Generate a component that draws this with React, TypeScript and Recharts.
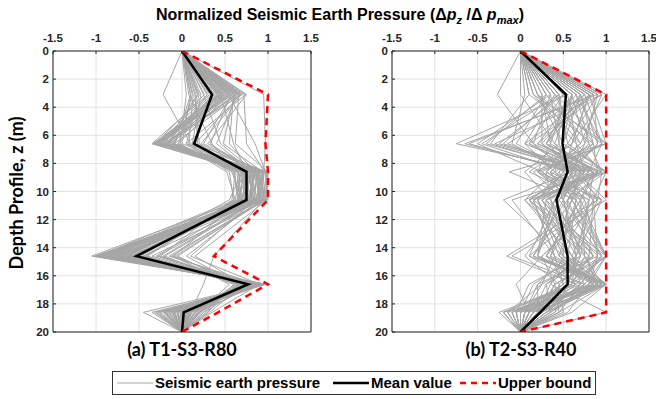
import React from 'react';
import { LineChart, Line, XAxis, YAxis, CartesianGrid } from 'recharts';

// depth stations (m) where the pressure profiles were sampled
const DEPTHS = [0, 3.1, 6.6, 8.6, 10.6, 14.6, 16.6, 18.6, 20];
const X_TICKS = [-1.5, -1, -0.5, 0, 0.5, 1, 1.5];
const Z_TICKS = [0, 2, 4, 6, 8, 10, 12, 14, 16, 18, 20];

// every record is zero at the surface and at the base
const SURFACE = 0;
const BASE = 0;

// T1-S3-R80 records, values at depths 3.1 .. 18.6
const T1_RECORDS = [
  [0.45, -0.30, 0.80, 0.85, -0.90, 0.85, -0.10],
  [0.55, -0.28, 0.90, 0.95, -0.85, 0.90, 0.05],
  [0.60, -0.33, 0.85, 0.80, -1.00, 0.95, -0.20],
  [0.40, -0.25, 0.70, 0.75, -0.70, 0.80, 0.10],
  [0.65, -0.20, 0.95, 0.90, -0.95, 0.88, -0.05],
  [0.30, -0.35, 0.75, 0.70, -1.05, 0.92, -0.30],
  [0.50, -0.15, 0.65, 0.85, -0.60, 0.75, 0.15],
  [0.70, -0.22, 1.00, 0.98, -0.80, 0.97, 0.00],
  [0.35, -0.10, 0.60, 0.65, -0.50, 0.70, 0.20],
  [0.20, 0.05, 0.55, 0.60, -0.40, 0.65, 0.25],
  [0.75, 0.30, 0.90, 0.80, -0.30, 0.85, -0.15],
  [0.25, 0.45, 0.85, 0.90, -0.20, 0.60, 0.30],
  [0.15, 0.20, 0.70, 0.55, -0.65, 0.80, 0.05],
  [-0.22, 0.10, 0.80, 0.75, -0.45, 0.78, -0.05],
  [0.95, 0.97, 0.95, 0.85, 0.10, 0.90, 0.35],
  [0.60, 0.55, 0.85, 0.95, 0.37, 0.25, 0.10],
  [0.45, 0.60, 0.75, 0.70, -0.10, 0.55, 0.20],
  [0.55, -0.05, 0.65, 0.75, -0.55, 0.70, 0.00],
  [0.10, 0.00, 0.90, 0.88, -0.75, 0.95, -0.25],
  [0.50, -0.30, 0.80, 0.72, -0.88, 0.82, -0.10],
  [0.62, -0.18, 0.88, 0.92, -0.78, 0.86, 0.08],
  [0.38, -0.27, 0.72, 0.66, -0.92, 0.90, -0.18],
  [0.68, 0.15, 0.98, 1.00, -0.35, 0.75, 0.12],
  [0.08, 0.35, 0.62, 0.58, -0.25, 0.68, 0.22],
  [0.52, -0.12, 0.78, 0.82, -0.68, 0.80, -0.08],
  [0.58, 0.25, 0.92, 0.96, -0.15, 0.88, 0.18],
  [0.18, -0.20, 0.68, 0.62, -0.98, 0.93, -0.45],
  [0.72, 0.75, 0.96, 0.90, 0.05, 0.66, 0.28],
  [0.44, -0.32, 0.84, 0.78, -0.82, 0.84, -0.12],
  [0.13, 0.08, 0.58, 0.70, -0.58, 0.72, 0.06],
  [0.48, -0.24, 0.94, 0.86, -0.72, 0.98, -0.22],
  [0.64, 0.40, 0.82, 0.94, -0.05, 0.62, 0.15],
  [0.10, -0.08, 0.66, 0.68, -0.62, 0.76, 0.02],
  [0.56, -0.26, 0.76, 0.84, -0.94, 0.91, -0.28],
  [0.16, 0.18, 0.74, 0.64, -0.48, 0.74, 0.10],
  [0.66, 0.62, 1.00, 0.96, -0.12, 0.80, 0.25],
  [0.42, -0.16, 0.86, 0.76, -0.76, 0.87, -0.02],
  [0.05, -0.02, 0.52, 0.62, -0.42, 0.64, 0.16],
  [0.54, 0.85, 0.97, 0.99, 0.15, 0.72, 0.32],
  [0.46, -0.34, 0.88, 0.90, -1.02, 0.96, -0.35],
  [0.32, -0.29, 0.82, 0.80, -0.86, 0.83, -0.06],
  [0.58, -0.21, 0.91, 0.88, -0.96, 0.94, -0.14],
  [0.26, -0.31, 0.77, 0.73, -0.84, 0.79, 0.04],
  [0.63, -0.14, 0.87, 0.93, -0.74, 0.89, -0.09],
  [0.41, -0.23, 0.79, 0.81, -0.91, 0.92, -0.16],
  [0.22, 0.12, 0.64, 0.67, -0.52, 0.69, 0.14],
  [0.49, -0.27, 0.93, 0.89, -0.99, 0.97, -0.26],
  [0.69, 0.22, 0.85, 0.91, -0.28, 0.77, 0.09],
  [0.37, -0.19, 0.73, 0.71, -0.66, 0.81, 0.01],
  [0.12, -0.04, 0.61, 0.66, -0.56, 0.73, 0.11],
  [0.53, -0.30, 0.89, 0.83, -0.89, 0.88, -0.19],
  [0.61, 0.48, 0.94, 0.97, -0.08, 0.69, 0.21],
  [0.29, -0.11, 0.71, 0.74, -0.71, 0.83, -0.04],
  [0.47, -0.33, 0.83, 0.79, -0.97, 0.95, -0.32],
  [0.74, 0.05, 0.99, 0.94, -0.45, 0.86, 0.07],
  [0.34, -0.24, 0.76, 0.77, -0.81, 0.85, -0.11],
  [0.57, 0.33, 0.81, 0.87, -0.22, 0.71, 0.19],
  [0.19, -0.17, 0.69, 0.69, -0.64, 0.78, 0.03],
  [0.43, -0.28, 0.87, 0.84, -0.93, 0.91, -0.21],
  [0.67, -0.09, 0.92, 0.95, -0.61, 0.93, -0.01],
];
const T1_MEAN = [0, 0.35, 0.14, 0.75, 0.75, -0.53, 0.77, 0.02, 0];
const T1_UPPER = [0, 1, 0.97, 1, 1, 0.37, 1, 0.42, 0];

// T2-S3-R40 records, values at depths 3.1 .. 18.6
const T2_RECORDS = [
  [0.70, 0.30, 0.90, 0.20, 0.60, 0.85, 0.10],
  [0.40, 1.00, 0.20, 0.70, 0.30, 0.95, 0.00],
  [0.85, -0.60, 0.60, 0.50, 1.00, 0.40, 0.20],
  [0.20, 0.50, 1.00, 0.10, 0.80, 0.60, -0.20],
  [0.95, 0.70, 0.30, 0.90, 0.10, 1.00, 0.30],
  [0.55, -0.75, 0.75, 0.35, 0.55, 0.20, 0.05],
  [0.10, 0.85, 0.45, 0.60, 0.95, 0.70, 0.45],
  [0.65, 0.20, 0.95, -0.10, 0.40, 0.90, -0.10],
  [1.00, 0.60, 0.10, 0.80, 0.70, 0.30, 0.15],
  [0.30, -0.40, 0.80, 0.45, 0.20, 1.00, 0.60],
  [0.75, 0.95, 0.50, 0.25, 0.85, 0.50, -0.05],
  [0.50, 0.10, 0.65, 1.00, -0.10, 0.75, 0.25],
  [0.00, 0.40, 0.85, 0.30, 0.65, 0.15, 0.00],
  [0.80, 1.00, -0.13, 0.65, 0.45, 0.85, 0.35],
  [0.45, -0.20, 0.70, 0.15, 1.00, 0.60, -0.25],
  [0.60, 0.75, 0.35, 0.95, 0.25, -0.05, 0.10],
  [-0.27, 0.15, 0.55, 0.40, 0.75, 0.95, 0.20],
  [0.90, 0.55, 1.00, 0.55, 0.05, 0.45, 0.50],
  [0.35, -0.50, 0.25, 0.75, 0.90, 0.80, 0.05],
  [0.70, 0.90, 0.60, -0.20, 0.50, 0.35, 1.00],
  [0.25, 0.35, 0.90, 0.60, 0.35, 1.00, 0.15],
  [0.85, 0.05, 0.40, 0.85, 0.80, 0.25, -0.15],
  [0.55, 0.65, 0.75, 0.05, 0.60, 0.70, 0.30],
  [0.15, 1.00, 0.15, 0.50, 0.15, 0.90, 0.10],
  [0.95, -0.30, 0.85, 0.70, 1.00, 0.55, 0.40],
  [0.45, 0.45, 0.05, 0.35, 0.70, 0.10, -0.05],
  [0.65, 0.80, 0.95, 0.90, -0.16, 0.65, 0.20],
  [0.05, -0.10, 0.50, 0.20, 0.45, 0.85, 0.00],
  [0.75, 0.25, 0.70, 0.45, 0.95, 0.40, 0.25],
  [0.40, 0.70, 0.30, 0.80, 0.30, 1.00, -0.20],
  [0.90, -0.65, 0.65, 0.10, 0.55, 0.75, 0.15],
  [0.20, 0.95, 0.80, 0.55, 0.85, 0.30, 0.35],
  [0.60, 0.30, 1.00, 0.30, 0.20, 0.95, 0.05],
  [0.80, 0.60, 0.20, 0.95, 0.65, 0.60, -0.10],
  [0.30, -0.05, 0.60, 0.65, 1.00, 0.80, 0.55],
  [0.50, 0.85, 0.90, 0.15, 0.40, 0.50, 0.10],
  [0.70, 0.50, 0.40, 0.70, 0.75, 0.90, 0.30],
  [0.10, -0.35, 0.75, 0.40, 0.10, 0.70, -0.05],
  [0.85, 0.90, 0.55, 0.85, 0.90, 0.20, 0.20],
  [0.35, 0.15, 0.85, 0.25, 0.60, 1.00, 0.45],
  [0.60, 0.40, 0.65, 0.50, 0.70, 0.55, 0.10],
  [0.30, 0.80, 0.45, 0.20, 0.50, 0.90, 0.25],
  [0.85, 0.20, 0.90, 0.70, 0.30, 0.65, -0.10],
  [0.45, 0.55, 0.30, 0.35, 0.85, 0.45, 0.35],
  [0.75, -0.15, 0.70, 0.90, 0.60, 1.00, 0.15],
  [0.15, 0.65, 0.95, 0.15, 0.40, 0.25, 0.05],
  [0.55, 0.35, 0.20, 0.60, 1.00, 0.75, 0.40],
  [0.90, 0.75, 0.60, 0.40, 0.20, 0.85, -0.15],
  [0.40, 0.05, 0.85, 0.80, 0.65, 0.35, 0.20],
  [0.65, 0.95, 0.40, 0.05, 0.75, 0.60, 0.00],
  [0.25, 0.25, 0.75, 0.55, 0.50, 1.00, 0.30],
  [0.80, 0.60, 0.50, 0.75, 0.35, 0.50, 0.10],
  [0.50, -0.25, 0.95, 0.30, 0.90, 0.70, 0.25],
  [0.70, 0.85, 0.25, 0.65, 0.55, 0.95, -0.05],
  [0.35, 0.45, 0.60, 0.95, 0.25, 0.40, 0.45],
  [0.95, 0.10, 0.80, 0.25, 0.80, 0.80, 0.15],
  [0.20, 0.70, 0.35, 0.50, 0.65, 0.55, 0.05],
  [0.60, 0.50, 1.00, 0.85, 0.45, 0.90, 0.35],
  [0.45, -0.45, 0.55, 0.10, 0.95, 0.65, -0.20],
  [0.80, 0.30, 0.70, 0.60, 0.15, 1.00, 0.20],
];
const T2_MEAN = [0, 0.53, 0.49, 0.55, 0.42, 0.55, 0.55, 0.23, 0];
const T2_UPPER = [0, 1, 1, 1, 1, 1, 1, 1, 0];

const AXIS_COLOR = '#262626';
const RECORD_COLOR = '#a6a6a6';

const buildRows = (records: number[][], mean: number[], upper: number[]) =>
  DEPTHS.map((z, i) => {
    const row: Record<string, number> = { z, mean: mean[i], upper: upper[i] };
    records.forEach((rec, k) => {
      row[`r${k}`] = i === 0 ? SURFACE : i === DEPTHS.length - 1 ? BASE : rec[i - 1];
    });
    return row;
  });

const tickStyle = { fontSize: 11.5, fontWeight: 'bold', fill: AXIS_COLOR };

interface PanelProps {
  rows: Record<string, number>[];
  count: number;
  width: number;
  axisWidth: number;
  rightGap: number;
}

const ProfilePanel: React.FC<PanelProps> = ({ rows, count, width, axisWidth, rightGap }) => (
  <LineChart
    layout="vertical"
    width={width}
    height={320}
    data={rows}
    margin={{ top: 0, right: rightGap, bottom: 12, left: 0 }}
  >
    <CartesianGrid stroke="#e2e2e2" />
    <XAxis
      type="number"
      orientation="top"
      domain={[-1.5, 1.5]}
      ticks={X_TICKS}
      interval={0}
      allowDataOverflow
      height={26}
      tickSize={-3}
      tickMargin={12}
      tick={tickStyle}
      axisLine={{ stroke: AXIS_COLOR }}
      tickLine={{ stroke: AXIS_COLOR }}
    />
    <XAxis
      xAxisId="frame"
      type="number"
      orientation="bottom"
      domain={[-1.5, 1.5]}
      ticks={X_TICKS}
      interval={0}
      allowDataOverflow
      height={1}
      tickSize={-3}
      tick={false}
      axisLine={{ stroke: AXIS_COLOR }}
      tickLine={{ stroke: AXIS_COLOR }}
    />
    {/* depth grows downward: in vertical layout the number axis already runs top to bottom */}
    <YAxis
      type="number"
      dataKey="z"
      domain={[0, 20]}
      ticks={Z_TICKS}
      interval={0}
      allowDataOverflow
      width={axisWidth}
      tickSize={-3}
      tickMargin={7}
      tick={tickStyle}
      axisLine={{ stroke: AXIS_COLOR }}
      tickLine={{ stroke: AXIS_COLOR }}
    />
    <YAxis
      yAxisId="frame"
      type="number"
      orientation="right"
      domain={[0, 20]}
      ticks={Z_TICKS}
      interval={0}
      allowDataOverflow
      width={1}
      tickSize={-3}
      tick={false}
      axisLine={{ stroke: AXIS_COLOR }}
      tickLine={{ stroke: AXIS_COLOR }}
    />
    {Array.from({ length: count }, (_, k) => (
      <Line
        key={k}
        dataKey={`r${k}`}
        stroke={RECORD_COLOR}
        strokeWidth={1}
        dot={false}
        activeDot={false}
        isAnimationActive={false}
      />
    ))}
    <Line dataKey="mean" stroke="#000" strokeWidth={2.5} dot={false} activeDot={false} isAnimationActive={false} />
    <Line
      dataKey="upper"
      stroke="#ff0000"
      strokeWidth={2.5}
      strokeDasharray="7 5"
      dot={false}
      activeDot={false}
      isAnimationActive={false}
    />
  </LineChart>
);

const LegendSwatch: React.FC<{ left: number; color: string; dash?: string; w: number }> = ({
  left,
  color,
  dash,
  w,
}) => (
  <svg width={36} height={10} style={{ position: 'absolute', left, top: 6 }}>
    <line x1={0} y1={5} x2={36} y2={5} stroke={color} strokeWidth={w} strokeDasharray={dash} />
  </svg>
);

const t1Rows = buildRows(T1_RECORDS, T1_MEAN, T1_UPPER);
const t2Rows = buildRows(T2_RECORDS, T2_MEAN, T2_UPPER);

const subLabel = {
  position: 'absolute' as const,
  top: 338,
  width: 200,
  textAlign: 'center' as const,
  fontFamily: 'Lato, sans-serif',
  fontWeight: 'bold' as const,
  fontSize: 18,
  lineHeight: '22px',
  color: '#000',
};

const legendText = { position: 'absolute' as const, top: 0, lineHeight: '22px' };

export default function App() {
  return (
    <div
      style={{
        position: 'absolute',
        left: 0,
        top: 0,
        width: 656,
        height: 399,
        background: '#fff',
        fontFamily: '"Liberation Sans", Arial, sans-serif',
        overflow: 'hidden',
      }}
    >
      <div
        style={{
          position: 'absolute',
          left: 340 - 250,
          top: 6,
          width: 500,
          textAlign: 'center',
          fontSize: 16,
          fontWeight: 'bold',
          lineHeight: '18px',
          whiteSpace: 'nowrap',
          color: '#000',
        }}
      >
        Normalized Seismic Earth Pressure (Δ<i>p</i>
        <sub style={{ fontSize: 11, fontStyle: 'italic' }}>z</sub> /Δ <i>p</i>
        <sub style={{ fontSize: 11, fontStyle: 'italic' }}>max</sub>)
      </div>

      <div style={{ position: 'absolute', left: 0, top: 25 }}>
        <ProfilePanel rows={t1Rows} count={T1_RECORDS.length} width={330} axisWidth={53} rightGap={18} />
      </div>
      <div style={{ position: 'absolute', left: 330, top: 25 }}>
        <ProfilePanel rows={t2Rows} count={T2_RECORDS.length} width={326} axisWidth={62} rightGap={6} />
      </div>

      <div
        style={{
          position: 'absolute',
          left: 16 - 110,
          top: 193 - 11,
          width: 220,
          height: 22,
          lineHeight: '22px',
          textAlign: 'center',
          fontFamily: 'Lato, sans-serif',
          fontWeight: 'bold',
          fontSize: 18,
          color: '#000',
          transform: 'rotate(-90deg)',
          whiteSpace: 'nowrap',
        }}
      >
        Depth Profile, z (m)
      </div>

      <div style={{ ...subLabel, left: 182 - 100 }}>(a) T1-S3-R80</div>
      <div style={{ ...subLabel, left: 521 - 100 }}>(b) T2-S3-R40</div>

      <div
        style={{
          position: 'absolute',
          left: 112,
          top: 371,
          width: 482,
          height: 22,
          border: '1px solid #333',
          fontSize: 15,
          fontWeight: 'bold',
          whiteSpace: 'nowrap',
          color: '#000',
        }}
      >
        <LegendSwatch left={4} color={RECORD_COLOR} w={1} />
        <span style={{ ...legendText, left: 42 }}>Seismic earth pressure</span>
        <LegendSwatch left={220} color="#000" w={2.5} />
        <span style={{ ...legendText, left: 258 }}>Mean value</span>
        <LegendSwatch left={347} color="#ff0000" w={2.5} dash="6 5" />
        <span style={{ ...legendText, left: 385 }}>Upper bound</span>
      </div>
    </div>
  );
}
